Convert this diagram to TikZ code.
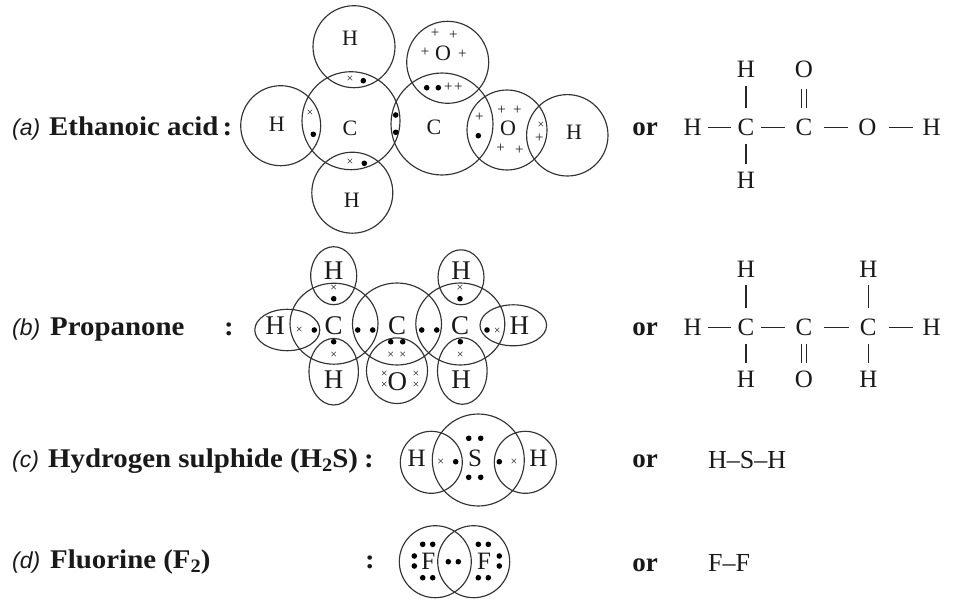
\documentclass[tikz,border=0pt]{standalone}
\usepackage{fontspec}
\setmainfont{Liberation Serif}
\setsansfont{Liberation Sans}
\newfontfamily\lblfont{Liberation Serif}[FakeStretch=1.07]
\newcommand{\fs}[1]{\fontsize{#1}{#1}\selectfont}
\newcommand{\sbs}[1]{\raisebox{-4pt}{\fs{19}#1}}
\tikzset{
  orbit/.style={draw=black!80,line width=1.15pt},
  bond/.style={draw=black!85,line width=1.15pt},
  dbl/.style={draw=black!85,line width=.8pt,double,double distance=3.6pt},
  txt/.style={inner sep=0pt,text=black!90},
  ha/.style={txt,font=\fs{22}},
  hb/.style={txt,font=\fs{27}},
  hc/.style={txt,font=\fs{25}},
  atom/.style={txt,font=\fs{25},minimum width=30pt,minimum height=32pt},
  lbl/.style={txt,anchor=base west,font=\fs{27}\lblfont\bfseries},
  tag/.style={txt,anchor=base west,font=\fs{23}\sffamily\itshape},
  plain/.style={txt,anchor=base west,font=\fs{26}},
  orword/.style={txt,font=\fs{27}\bfseries},
  crossmark/.style={txt,font=\fs{12}},
  plusmark/.style={txt,font=\fs{15}},
}
\begin{document}
\begin{tikzpicture}[x=1pt,y=-1pt]
\fill[white] (0,0) rectangle (980,613);
\useasboundingbox (0,0) rectangle (980,613);

% ---------- left-hand labels
\node[tag] (ta) at (12,135) {(a)};
\node[lbl] (la) at (49,135) {Ethanoic acid\kern4pt:};
\node[tag] (tb) at (12,335) {(b)};
\node[lbl] (lb) at (50,335) {Propanone};
\node[lbl] (cb) at (224,335) {:};
\node[tag] (tc) at (12,467) {(c)};
\node[lbl] (lc) at (48,467) {Hydrogen sulphide (H\sbs{2}S)};
\node[lbl] (cc) at (364,467) {:};
\node[tag] (td) at (12,568) {(d)};
\node[lbl] (ld) at (50,568) {Fluorine (F\sbs{2})};
\node[lbl] (cd) at (365,568) {:};

% ---------- (a) orbitals
\foreach \x/\y/\r in {354/46.7/41,280.7/125.7/40,351/120.7/49,352.3/192.7/40.5,442/124/51,447.7/62.3/41,507/130/40,567.3/135.3/40.7}
  \draw[orbit] (\x,\y) circle[radius=\r pt];
\node[ha] (a1) at (350,38) {H};
\node[ha] (a2) at (276.7,124.3) {H};
\node[ha] (a3) at (350,128) {C};
\node[ha] (a4) at (351.7,200) {H};
\node[ha] (a5) at (443,53) {O};
\node[ha] (a6) at (434,127) {C};
\node[ha] (a7) at (508,128) {O};
\node[ha] (a8) at (574,132) {H};
\foreach \x/\y in {363.3/80.7,313.3/134.3,395.7/115,395.7/132.3,364.3/163.3,426.7/87.7,438.3/87.7,478.3/135.7}
  \fill[black] (\x,\y) circle[radius=2.8pt];
\foreach \x/\y [count=\i] in {350/79.3,310/113.3,350/162.7,541/125}
  \node[crossmark] (ax\i) at (\x,\y) {×};
\foreach \x/\y [count=\i] in {435/33.3,453.3/35.7,425/52.3,462.3/54.3,448.3/87.7,458.3/87.7,479.3/117.7,501.7/110,517.3/110,500.7/148.3,519.3/150,539.3/138.3}
  \node[plusmark] (ap\i) at (\x,\y) {+};

% ---------- (b) orbitals
\foreach \x/\y/\rx/\ry in {333.7/275.7/23/29,334/323.7/44/40.5,397/324/44.5/41,460.3/324/44.5/41,287.3/330/32.5/20.7,513.3/325.3/33.3/20.5,333.7/371.7/24.7/33.3,397/370.7/30.5/32.8,462.3/371/24.8/33.3,461/277.3/23/27.5}
  \draw[orbit] (\x,\y) ellipse[x radius=\rx pt,y radius=\ry pt];
\node[hb] (b1) at (333.7,270.7) {H};
\node[hb] (b2) at (461,270.7) {H};
\node[hb] (b3) at (275,326) {H};
\node[hb] (b4) at (333.7,326) {C};
\node[hb] (b5) at (397,326) {C};
\node[hb] (b6) at (460,326) {C};
\node[hb] (b7) at (519.3,326) {H};
\node[hb] (b8) at (333.7,380) {H};
\node[hb] (b9) at (397.3,381.7) {O};
\node[hb] (b10) at (461,380) {H};
\foreach \x/\y in {333.7/298.7,460/298.7,314.3/330,357.7/330,372.7/330,421.7/330,436.7/330,487/330,333.7/341.7,390.7/341.7,402.7/341.7,460.3/341.7}
  \fill[black] (\x,\y) circle[radius=2.8pt];
\foreach \x/\y [count=\i] in {333.7/288.3,460/288.3,299.3/330.7,497.3/331,333.7/355,390.7/355,402.7/355,460.3/355,384.3/374,384.3/385.7,416/374.3,416/385.7}
  \node[crossmark] (bx\i) at (\x,\y) {×};

% ---------- (c) orbitals
\foreach \x/\y/\r in {431.3/462.3/31,478.3/460/46,525.3/462.3/31}
  \draw[orbit] (\x,\y) circle[radius=\r pt];
\node[hc] (c1) at (416.7,458.3) {H};
\node[hc] (c2) at (475,458.3) {S};
\node[hc] (c3) at (538.3,458.3) {H};
\foreach \x/\y in {455.7/461.7,499.3/461.7,468.7/438.3,480.7/438.3,468.7/477.3,480.7/477.3}
  \fill[black] (\x,\y) circle[radius=2.8pt];
\node[crossmark] (cx1) at (440.7,462.7) {×};
\node[crossmark] (cx2) at (514,462.7) {×};

% ---------- (d) orbitals
\foreach \x/\y/\r in {435.3/561.7/36,473.7/561.7/36}
  \draw[orbit] (\x,\y) circle[radius=\r pt];
\node[hc] (d1) at (428.3,561.7) {F};
\node[hc] (d2) at (484,561.7) {F};
\foreach \x/\y in {422.7/544.3,432.7/544.3,422.7/577.7,432.7/577.7,414.3/556,414.3/566,448.3/561.7,458.3/561.7,478.3/544.3,488.3/544.3,478.3/577.7,488.3/577.7,499.3/556,499.3/566}
  \fill[black] (\x,\y) circle[radius=2.8pt];

% ---------- "or"
\node[orword] (o1) at (645,129) {or};
\node[orword] (o2) at (645,329) {or};
\node[orword] (o3) at (645,461) {or};
\node[orword] (o4) at (645,565) {or};

% ---------- (a) structural formula
\node[atom] (ah1) at (746,69.3) {H};
\node[atom] (ao1) at (804,69.3) {O};
\node[atom] (ah2) at (692.7,127.3) {H};
\node[atom] (ac1) at (746,127.3) {C};
\node[atom] (ac2) at (804,127.3) {C};
\node[atom] (ao2) at (867.3,127.3) {O};
\node[atom] (ah3) at (931.7,127.3) {H};
\node[atom] (ah4) at (746,180) {H};
\draw[bond] (ah2) -- (ac1);
\draw[bond,shorten >=4pt] (ac1) -- (ac2);
\draw[bond,shorten <=5pt,shorten >=4pt] (ac2) -- (ao2);
\draw[bond,shorten <=6pt,shorten >=4pt] (ao2) -- (ah3);
\draw[bond,shorten >=3pt] (ah1) -- (ac1);
\draw[bond] (ac1) -- (ah4);
\draw[dbl,shorten <=3pt,shorten >=3pt] (ao1) -- (ac2);

% ---------- (b) structural formula
\node[atom] (bh1) at (746,269) {H};
\node[atom] (bh2) at (868.3,269) {H};
\node[atom] (bh3) at (692.7,327.3) {H};
\node[atom] (bc1) at (746,327.3) {C};
\node[atom] (bc2) at (804,327.3) {C};
\node[atom] (bc3) at (868.3,327.3) {C};
\node[atom] (bh4) at (931.7,327.3) {H};
\node[atom] (bh5) at (746,379.3) {H};
\node[atom] (bo) at (804,379.3) {O};
\node[atom] (bh6) at (868.3,379.3) {H};
\draw[bond] (bh3) -- (bc1);
\draw[bond,shorten >=4pt] (bc1) -- (bc2);
\draw[bond,shorten <=5pt,shorten >=4pt] (bc2) -- (bc3);
\draw[bond,shorten <=5pt,shorten >=4pt] (bc3) -- (bh4);
\draw[bond,shorten >=3pt] (bh1) -- (bc1);
\draw[bond,shorten >=3pt] (bh2) -- (bc3);
\draw[bond] (bc1) -- (bh5);
\draw[bond] (bc3) -- (bh6);
\draw[dbl] (bc2) -- (bo);

% ---------- (c), (d) condensed formulae
\node[plain] (hsh) at (708,468) {H–S–H};
\node[plain] (ff) at (708,571) {F–F};
\end{tikzpicture}
\end{document}
